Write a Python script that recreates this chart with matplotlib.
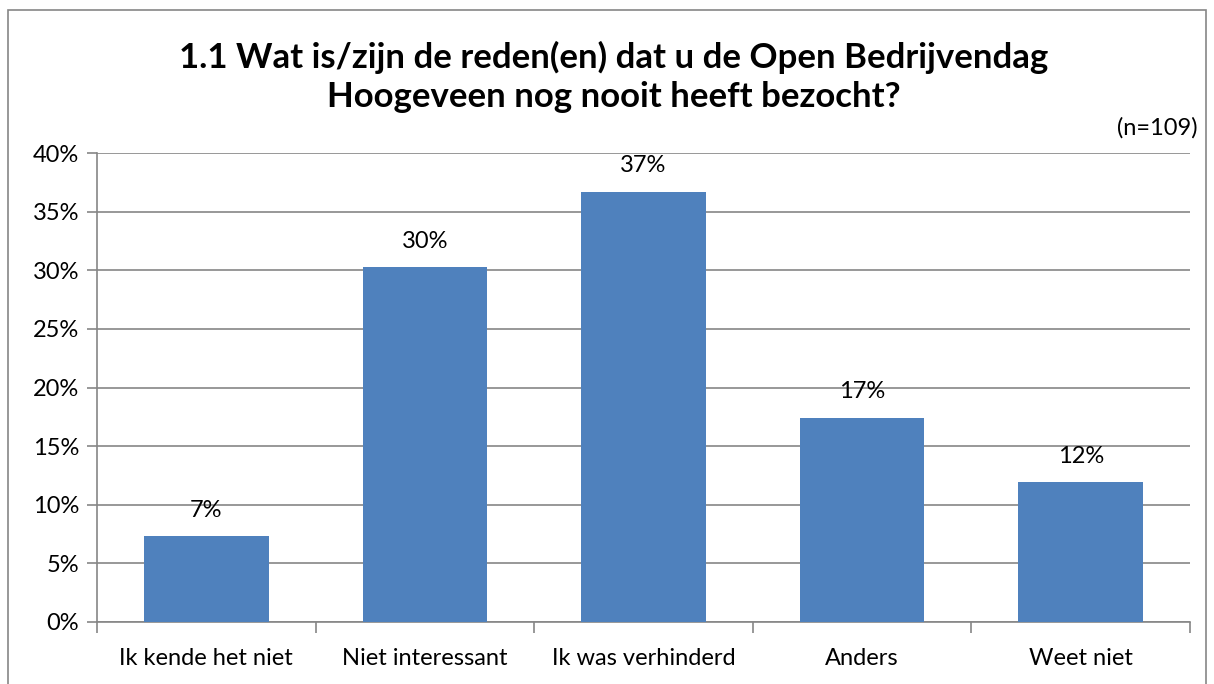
import matplotlib

matplotlib.use("Agg")
import matplotlib.pyplot as plt
from matplotlib.patches import Rectangle
import numpy as np

categories = ["Ik kende het niet", "Niet interessant", "Ik was verhinderd", "Anders", "Weet niet"]
values = [7.34, 30.28, 36.70, 17.43, 11.93]
labels = ["7%", "30%", "37%", "17%", "12%"]

plt.rcParams["font.family"] = ["Lato", "DejaVu Sans"]

BAR = "#4F81BD"
GRID = "#868686"
FS = 17

fig = plt.figure(figsize=(12.14, 6.84), dpi=100)
fig.patches.append(Rectangle((8 / 1214, -0.01), (1206 - 8) / 1214, (684 - 10) / 684 + 0.01,
                             transform=fig.transFigure, fill=False,
                             edgecolor=GRID, linewidth=1.2))
ax = fig.add_axes([97 / 1214, 62 / 684, (1190 - 97) / 1214, (622 - 153) / 684])

x = np.arange(len(categories))
ax.bar(x, values, width=0.57, color=BAR, zorder=3)
for xi, v, lab in zip(x, values, labels):
    ax.annotate(lab, (xi, v), xytext=(0, 11), textcoords="offset points",
                ha="center", va="bottom", fontsize=FS)

ax.set_xlim(-0.5, len(categories) - 0.5)
ax.set_ylim(0, 40)
ax.set_yticks(np.arange(0, 41, 5))
ax.set_yticklabels([f"{t}%" for t in range(0, 41, 5)], fontsize=FS)
ax.yaxis.grid(True, color=GRID, linewidth=1.2, zorder=0)
ax.set_xticks(x)
ax.set_xticklabels(categories, fontsize=FS)
ax.tick_params(axis="x", length=0, pad=19)
ax.tick_params(axis="y", length=7, color=GRID, width=1.2, pad=6)
ax.set_xticks(np.arange(-0.5, len(categories)), minor=True)
ax.tick_params(axis="x", which="minor", length=8, color=GRID, width=1.2)
for side in ["top", "right"]:
    ax.spines[side].set_visible(False)
for side in ["left", "bottom"]:
    ax.spines[side].set_color(GRID)
    ax.spines[side].set_linewidth(1.2)

fig.text(614 / 1214, 1 - 77 / 684,
         "1.1 Wat is/zijn de reden(en) dat u de Open Bedrijvendag\nHoogeveen nog nooit heeft bezocht?",
         ha="center", va="center", fontsize=25, fontweight="bold", linespacing=1.25)
fig.text(1198 / 1214, 1 - 128 / 684, "(n=109)", ha="right", va="center", fontsize=FS)

fig.savefig("out.png", dpi=100)
